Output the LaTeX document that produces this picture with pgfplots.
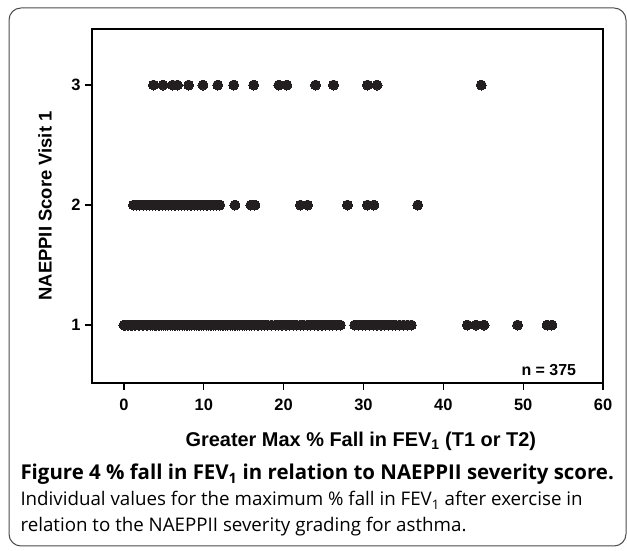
\documentclass[border=0pt]{standalone}
\usepackage{fontspec}
\setmainfont{Liberation Sans}
\newfontfamily\capfont{Open Sans}
\usepackage{pgfplots}
\pgfplotsset{compat=1.18}
\definecolor{dot}{RGB}{35,31,32}

\begin{document}
\begin{tikzpicture}[x=1bp,y=1bp]
\useasboundingbox (0,0) rectangle (627,551);
\draw[line width=1bp, black!70, rounded corners=12bp] (9,5) rectangle (626,543);
\begin{axis}[
  at={(92bp,168bp)}, anchor=south west,
  scale only axis, width=511bp, height=354bp,
  xmin=-4, xmax=60, ymin=0.517, ymax=3.467,
  xtick={0,10,...,60}, ytick={1,2,3},
  tick align=outside, xtick pos=bottom, ytick pos=left,
  major tick length=7bp,
  axis line style={line width=1.8bp},
  every tick/.style={line width=1.3bp, black},
  ticklabel style={font=\fontsize{16.5}{16.5}\selectfont\bfseries},
  xticklabel style={yshift=-6bp},
  yticklabel style={xshift=-1bp},
  /pgf/number format/assume math mode=true,
  xlabel={Greater Max \% Fall in FEV\textsubscript{1} (T1 or T2)},
  ylabel={NAEPPII Score Visit 1},
  xlabel style={font=\fontsize{20}{20}\selectfont\bfseries, at={(axis description cs:0.526,-0.178)}, anchor=base},
  ylabel style={font=\fontsize{18.5}{18.5}\selectfont\bfseries, at={(axis description cs:-0.092,0.5)}, anchor=center},
  clip=false
]
% Score 1
\addplot[only marks, mark=*, mark size=5bp, color=dot, mark options={fill=dot, draw=dot, line width=0pt}] coordinates {
(0,1)(0.2,1)(0.4,1)(0.6,1)(0.8,1)(1.0,1)(1.3,1)(1.5,1)(1.8,1)(2.0,1)(2.3,1)(2.5,1)(2.8,1)(3.0,1)(3.3,1)(3.6,1)(3.9,1)(4.1,1)(4.4,1)(4.7,1)(5.0,1)(5.2,1)(5.5,1)(5.8,1)(6.1,1)(6.4,1)(6.7,1)(7.0,1)(7.3,1)(7.6,1)(7.9,1)(8.2,1)(8.5,1)(8.8,1)(9.1,1)(9.4,1)(9.7,1)(10.0,1)(10.3,1)(10.6,1)(10.9,1)(11.2,1)(11.5,1)(11.8,1)(12.1,1)(12.4,1)(12.7,1)(13.0,1)(13.3,1)(13.6,1)(13.9,1)(14.2,1)(14.5,1)(14.8,1)(15.1,1)(15.4,1)(15.7,1)(16.0,1)(16.4,1)(16.8,1)(17.2,1)(17.6,1)(18.0,1)(18.5,1)(19.0,1)(19.4,1)(19.8,1)(20.3,1)(20.7,1)(21.2,1)(21.6,1)(22.1,1)(22.5,1)(23.0,1)(23.4,1)(23.9,1)(24.3,1)(24.8,1)(25.2,1)(25.7,1)(26.1,1)(26.6,1)(27.1,1)
(28.9,1)(29.4,1)(29.9,1)(30.3,1)(30.8,1)(31.3,1)(31.7,1)(32.2,1)(32.6,1)(33.1,1)(33.6,1)(34.0,1)(34.5,1)(35.0,1)(35.5,1)(36.0,1)
(43.0,1)(44.1,1)(45.1,1)(49.3,1)(53.0,1)(53.6,1)
};
% Score 2
\addplot[only marks, mark=*, mark size=5bp, color=dot, mark options={fill=dot, draw=dot, line width=0pt}] coordinates {
(1.2,2)(1.6,2)(2.0,2)(2.4,2)(2.8,2)(3.2,2)(3.6,2)(4.0,2)(4.4,2)(4.8,2)(5.2,2)(5.6,2)(6.0,2)(6.4,2)(6.8,2)(7.2,2)(7.6,2)(8.0,2)(8.4,2)(8.8,2)(9.2,2)(9.6,2)(10.0,2)(10.4,2)(10.8,2)(11.2,2)(11.6,2)(12.0,2)
(13.9,2)(15.9,2)(16.4,2)(22.1,2)(23.0,2)(28.0,2)(30.5,2)(31.3,2)(36.8,2)
};
% Score 3
\addplot[only marks, mark=*, mark size=5bp, color=dot, mark options={fill=dot, draw=dot, line width=0pt}] coordinates {
(3.7,3)(4.9,3)(6.1,3)(6.7,3)(8.1,3)(9.9,3)(11.75,3)(13.75,3)(16.25,3)(19.4,3)(20.4,3)(24.0,3)(26.25,3)(30.5,3)(31.7,3)(44.75,3)
};
\node[font=\fontsize{16}{16}\selectfont\bfseries] at (rel axis cs:0.894,0.0367) {n = 375};
\end{axis}
\node[anchor=base west, font=\capfont\fontsize{20.5}{22}\selectfont\bfseries] at (17,71) {Figure 4 \% fall in FEV\textsubscript{1} in relation to NAEPPII severity score.};
\node[anchor=base west, font=\capfont\fontsize{18.8}{20}\selectfont] at (17,45) {Individual values for the maximum \% fall in FEV\textsubscript{1} after exercise in};
\node[anchor=base west, font=\capfont\fontsize{18.8}{20}\selectfont] at (17,19) {relation to the NAEPPII severity grading for asthma.};
\end{tikzpicture}
\end{document}
